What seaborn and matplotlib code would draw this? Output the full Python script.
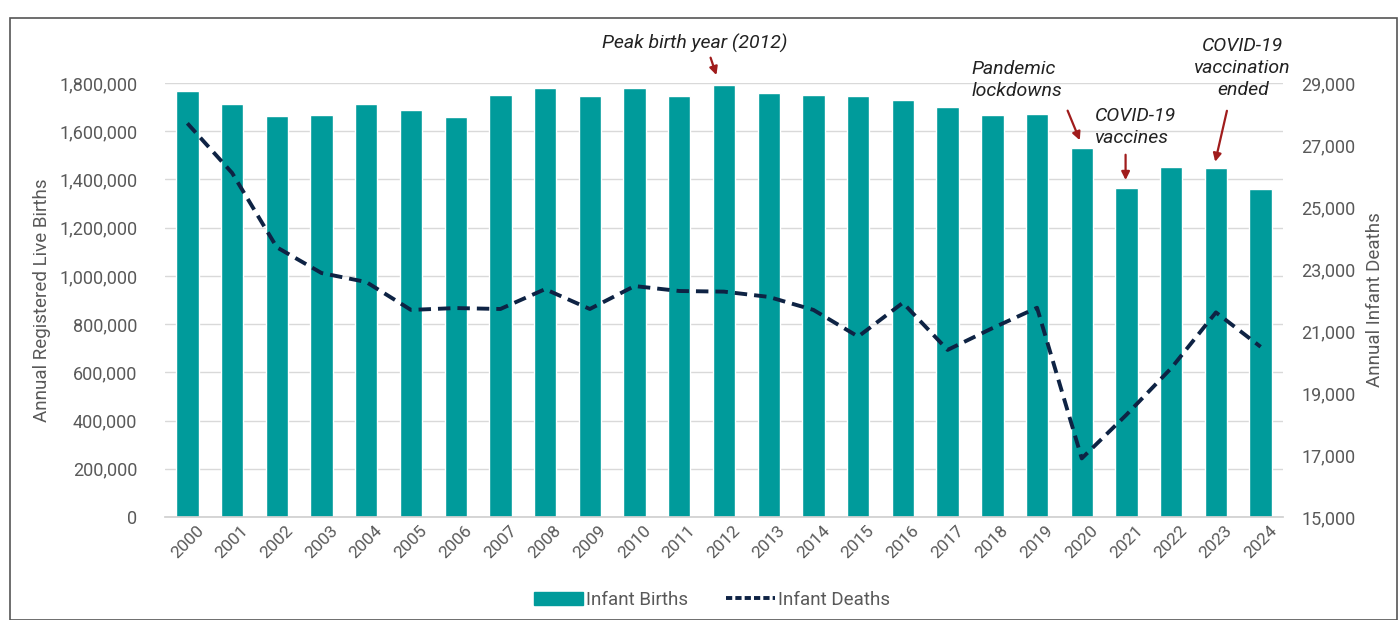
import numpy as np
import pandas as pd
import matplotlib
matplotlib.use("Agg")
import matplotlib.pyplot as plt
import seaborn as sns
from matplotlib.lines import Line2D
from matplotlib.patches import Patch, Rectangle
from matplotlib.ticker import FuncFormatter, MultipleLocator

years = [str(y) for y in range(2000, 2025)]
births = [1765000, 1713000, 1663000, 1667000, 1713000, 1688000, 1659000, 1750000,
          1779000, 1746000, 1779000, 1746000, 1792000, 1759000, 1750000, 1746000,
          1730000, 1700000, 1667000, 1672000, 1530000, 1365000, 1452000, 1448000,
          1360000]
deaths = [27700, 26100, 23700, 22870, 22580, 21680, 21740, 21710, 22350, 21710,
          22450, 22290, 22270, 22100, 21680, 20820, 21910, 20390, 21090, 21750,
          16890, 18300, 19800, 21600, 20490]
right_ticks = [15000, 17000, 19000, 21000, 23000, 25000, 27000, 29000]

TEAL = "#009B9B"
NAVY = "#0E2344"
GRAY = "#595959"
RED = "#A01C1C"

sns.set_theme(style="white")
plt.rcParams['font.family'] = ['Roboto', 'DejaVu Sans']

fig = plt.figure(figsize=(14, 6.2), dpi=100)
ax = fig.add_axes([165/1400, 1-517/620, (1283-165)/1400, (517-83)/620])

df = pd.DataFrame({"year": years, "births": births, "deaths": deaths})
sns.barplot(data=df, x="year", y="births", color=TEAL, saturation=1, width=0.5, ax=ax)
ax.set_xlim(-0.5, len(years)-0.5)
ax.set_ylim(0, 1800000)
ax.yaxis.set_major_locator(MultipleLocator(200000))
ax.yaxis.set_major_formatter(FuncFormatter(lambda v, p: f"{int(v):,}"))
ax.grid(axis="y", color="#d9d9d9", linewidth=1)
ax.set_axisbelow(True)
for s in ["left", "right", "top"]:
    ax.spines[s].set_visible(False)
ax.spines["bottom"].set_color("#d0d0d0")
ax.tick_params(axis="x", labelrotation=45, labelsize=12.5, colors=GRAY, length=0, pad=4)
ax.tick_params(axis="y", labelsize=13, colors=GRAY, length=0, pad=20)
for lab in ax.get_xticklabels():
    lab.set_ha("center")
ax.set_xlabel("")
ax.set_ylabel("Annual Registered Live Births", fontsize=13.5, color=GRAY, labelpad=6)

ax2 = ax.twinx()
sns.lineplot(x=np.arange(len(years)), y=deaths, ax=ax2, color=NAVY, linewidth=2.8,
             linestyle=(0, (3.2, 1.8)), legend=False)
ax2.set_ylim(15000, 29000)
ax2.set_yticks(right_ticks)
ax2.yaxis.set_major_formatter(FuncFormatter(lambda v, p: f"{int(v):,}"))
for s in ["left", "right", "top", "bottom"]:
    ax2.spines[s].set_visible(False)
ax2.tick_params(axis="y", labelsize=13, colors=GRAY, length=0, pad=13)
ax2.set_ylabel("Annual Infant Deaths", fontsize=13.5, color=GRAY, labelpad=8)
ax2.grid(False)

# annotations (left-axis data coordinates)
tkw = dict(fontsize=14, style="italic", color="#222222", clip_on=False)
akw = dict(arrowstyle="-|>", color=RED, lw=1.6, mutation_scale=12)
ax.text(11.35, 1966000, "Peak birth year (2012)", ha="center", va="center", **tkw)
ax.annotate("", xy=(11.85, 1822000), xytext=(11.68, 1916000), arrowprops=akw, annotation_clip=False)

ax.text(17.54, 1812000, "Pandemic\nlockdowns", ha="left", va="center", linespacing=1.3, **tkw)
ax.annotate("", xy=(19.98, 1552000), xytext=(19.66, 1696000), arrowprops=akw, annotation_clip=False)

ax.text(20.3, 1617000, "COVID-19\nvaccines", ha="left", va="center", linespacing=1.3, **tkw)
ax.annotate("", xy=(20.98, 1386000), xytext=(20.98, 1514000), arrowprops=akw, annotation_clip=False)

ax.text(23.6, 1862000, "COVID-19\nvaccination\nended", ha="center", va="center", linespacing=1.3, **tkw)
ax.annotate("", xy=(22.97, 1462000), xytext=(23.26, 1696000), arrowprops=akw, annotation_clip=False)

handles = [Patch(facecolor=TEAL, edgecolor=TEAL),
           Line2D([0], [0], color=NAVY, lw=2.8, linestyle=(0, (1.6, 0.8)))]
fig.legend(handles, ["Infant Births", "Infant Deaths"], loc="center",
           bbox_to_anchor=(712/1400, 1-600/620), ncol=2, frameon=False,
           fontsize=13.5, labelcolor=GRAY, handlelength=2.6, handletextpad=0.2,
           columnspacing=2.0)

fig.patches.append(Rectangle((10/1400, 0), 1387/1400, 1-18/620, transform=fig.transFigure,
                             fill=False, edgecolor="#555555", linewidth=1.2))

fig.savefig("out.png", dpi=100)
